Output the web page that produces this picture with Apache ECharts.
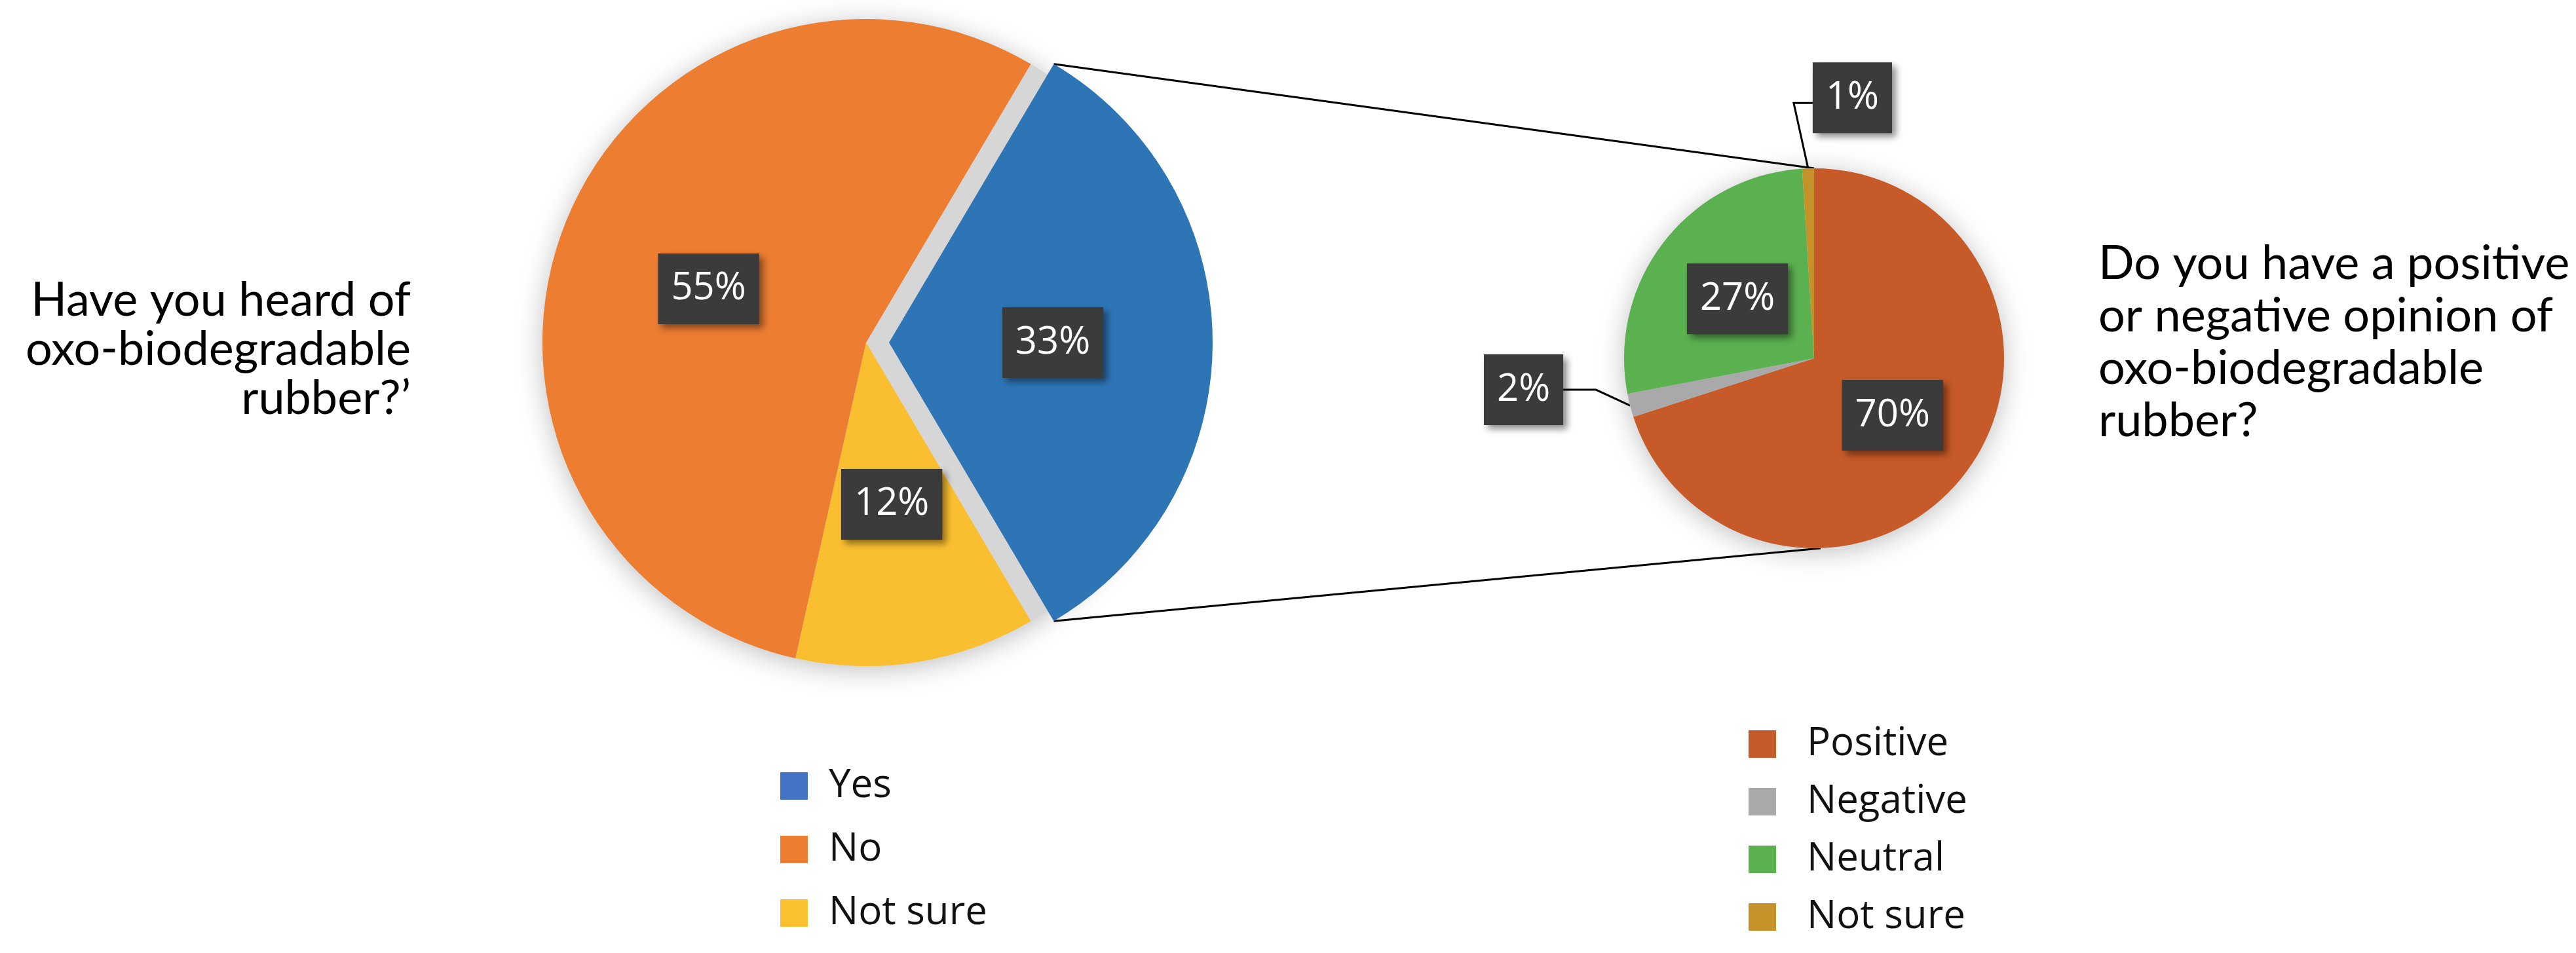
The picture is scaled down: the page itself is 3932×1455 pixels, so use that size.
<!DOCTYPE html>
<html>
<head>
<meta charset="utf-8">
<title>Oxo-biodegradable rubber survey</title>
<script src="https://cdn.jsdelivr.net/npm/echarts@6/dist/echarts.min.js"></script>
<style>
  html, body { margin: 0; padding: 0; background: #fff; }
  #chart { width: 3932px; height: 1455px; }
</style>
</head>
<body>
<div id="chart"></div>
<script>
// --- data ---
const heardNames = ['Yes', 'No', 'Not sure']
const heardValues = [33, 55, 12]
const opinionNames = ['Positive', 'Negative', 'Neutral', 'Not sure']
const opinionValues = [70, 2, 27, 1]

const heardTitle = 'Have you heard of\noxo-biodegradable\nrubber?\u2019'
const opinionTitle = 'Do you have a positive\nor negative opinion of\noxo-biodegradable\nrubber?'

// --- styles ---
const heardColors = ['#2E75B6', '#ED7D31', '#F9BF30']
const heardLegendColors = ['#4472C4', '#ED7D31', '#FBC02D']
const opinionColors = ['#C65A28', '#A9A9A9', '#5BB150', '#C5922A']

// layout of the two pies (px)
const L = { cx: 1322, cy: 523, r: 494, offset: 35 }
const R = { cx: 2769, cy: 547, r: 290 }

const sum = arr => arr.reduce((a, b) => a + b, 0)
const pt = (cx, cy, r, deg) => {
  const a = deg * Math.PI / 180
  return [cx + r * Math.cos(a), cy - r * Math.sin(a)]
}

// the "Yes" slice is centred on 3 o'clock and pulled out
const yesHalf = heardValues[0] / sum(heardValues) * 180
const topCorner = pt(L.cx + L.offset, L.cy, L.r, yesHalf)
const bottomCorner = pt(L.cx + L.offset, L.cy, L.r, -yesHalf)

// mid angle of a slice of the right pie (starts at 12 o'clock, clockwise)
const opTotal = sum(opinionValues)
const opinionMid = i => {
  const before = sum(opinionValues.slice(0, i))
  return 90 - (before + opinionValues[i] / 2) / opTotal * 360
}

const boxLabel = {
  show: true,
  formatter: '{c}%',
  color: '#fff',
  fontFamily: 'Open Sans',
  fontSize: 58,
  lineHeight: 70,
  backgroundColor: '#3b3b3b',
  padding: [19, 20],
  shadowColor: 'rgba(0,0,0,0.45)',
  shadowBlur: 10,
  shadowOffsetX: 6,
  shadowOffsetY: 6
}

const backdrop = (c) => ({
  type: 'pie',
  silent: true,
  center: [c.cx, c.cy],
  radius: c.r,
  label: { show: false },
  labelLine: { show: false },
  emphasis: { disabled: true },
  itemStyle: { color: '#d6d6d6', shadowBlur: 40, shadowOffsetY: 6, shadowColor: 'rgba(0,0,0,0.25)' },
  data: [{ value: 1, name: '__backdrop' }]
})

const titleText = {
  fontFamily: 'Lato',
  fontSize: 72,
  fontWeight: 'normal',
  color: '#000'
}

const legendBase = {
  orient: 'vertical',
  icon: 'rect',
  itemWidth: 42,
  itemHeight: 42,
  height: 600,
  selectedMode: false
}

const legendText = { fontFamily: 'Open Sans', fontSize: 60, color: '#111', lineHeight: 42 }

const option = {
  backgroundColor: '#fff',
  animation: false,
  title: [
    {
      text: heardTitle,
      left: 622,
      top: 416,
      textAlign: 'right',
      textStyle: { ...titleText, lineHeight: 75 }
    },
    {
      text: opinionTitle,
      left: 3198,
      top: 358,
      textStyle: { ...titleText, lineHeight: 80 }
    }
  ],
  legend: [
    {
      ...legendBase,
      left: 1186,
      top: 1165,
      itemGap: 37,
      textStyle: { ...legendText, padding: [0, 0, 0, 27] },
      data: heardNames.map((n, i) => ({ name: n, itemStyle: { color: heardLegendColors[i] } }))
    },
    {
      ...legendBase,
      left: 2664,
      top: 1101,
      itemGap: 28,
      textStyle: { ...legendText, padding: [0, 0, 0, 42] },
      data: opinionNames.map((n, i) => ({ name: n, itemStyle: { color: opinionColors[i] } }))
    }
  ],
  graphic: [
    {
      type: 'line',
      silent: true,
      shape: { x1: topCorner[0], y1: topCorner[1], x2: R.cx, y2: R.cy - R.r },
      style: { stroke: '#000', lineWidth: 3 }
    },
    {
      type: 'line',
      silent: true,
      shape: { x1: bottomCorner[0], y1: bottomCorner[1], x2: R.cx + 10, y2: R.cy + R.r },
      style: { stroke: '#000', lineWidth: 3 }
    }
  ],
  series: [
    backdrop(L),
    {
      type: 'pie',
      name: 'Heard',
      center: [L.cx, L.cy],
      radius: L.r,
      clockwise: false,
      startAngle: -yesHalf,
      selectedMode: 'single',
      selectedOffset: L.offset,
      avoidLabelOverlap: false,
      emphasis: { disabled: true },
      label: { ...boxLabel, position: 'inside' },
      labelLine: { show: false },
      data: heardNames.map((n, i) => ({
        name: n,
        value: heardValues[i],
        selected: i === 0,
        itemStyle: { color: heardColors[i] },
        select: { itemStyle: { color: heardColors[i] } },
        label: i === 0 ? { offset: [0, 15] } : (i === 1 ? { offset: [-8, 10] } : undefined)
      }))
    },
    backdrop(R),
    {
      type: 'pie',
      name: 'Opinion',
      center: [R.cx, R.cy],
      radius: R.r,
      clockwise: true,
      startAngle: 90,
      avoidLabelOverlap: false,
      emphasis: { disabled: true },
      label: { ...boxLabel, position: 'inside' },
      labelLine: { show: false, lineStyle: { color: '#000', width: 3 } },
      data: opinionNames.map((n, i) => {
        const small = opinionValues[i] < 5
        return {
          name: n,
          value: opinionValues[i],
          itemStyle: { color: opinionColors[i] },
          label: small ? { position: 'outside' } : undefined,
          labelLine: small ? { show: true, length: 30, length2: 30 } : undefined
        }
      }),
      labelLayout: function (p) {
        if (opinionValues[p.dataIndex] >= 5) return
        const mid = opinionMid(p.dataIndex)
        const p0 = pt(R.cx, R.cy, R.r, mid)
        if (Math.cos(mid * Math.PI / 180) < -0.5) {
          // slice on the left: label to the left
          const a = [p0[0] - 52, p0[1] - 24]
          const b = [p0[0] - 102, p0[1] - 24]
          return { x: b[0], y: b[1], align: 'right', verticalAlign: 'middle', labelLinePoints: [p0, a, b] }
        }
        // slice at the top: label above, to the right
        const a = [p0[0] - 22, p0[1] - 100]
        const b = [p0[0] + 7, p0[1] - 100]
        return { x: b[0], y: b[1] - 8, align: 'left', verticalAlign: 'middle', labelLinePoints: [p0, a, b] }
      }
    }
  ]
}

const chart = echarts.init(document.getElementById('chart'))
chart.setOption(option)
window.addEventListener('resize', () => chart.resize())
</script>
</body>
</html>
